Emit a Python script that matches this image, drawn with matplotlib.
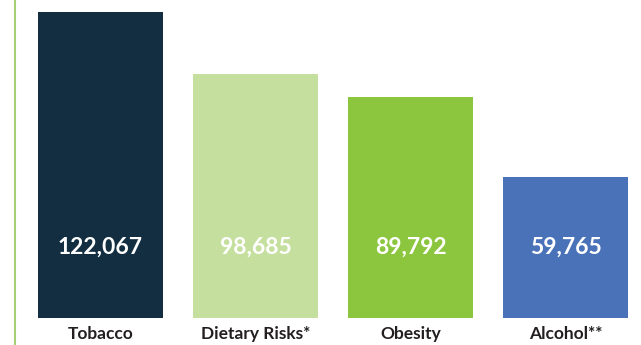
import matplotlib
matplotlib.use("Agg")
from matplotlib import pyplot as plt
from matplotlib.lines import Line2D

categories = ["Tobacco", "Dietary Risks*", "Obesity", "Alcohol**"]
values = [122067, 98685, 89792, 59765]
value_labels = ["122,067", "98,685", "89,792", "59,765"]
colors = ["#122e40", "#c5e09e", "#8cc63f", "#4a72b8"]

plt.rcParams['font.family'] = ['Lato', 'DejaVu Sans']

fig = plt.figure(figsize=(6.41, 3.45), dpi=100)
ax = fig.add_axes([14/641, 27/345, 627/641, 318/345])

x = range(len(categories))
ax.bar(x, values, width=0.806, color=colors)

# bars start below zero in the original, so the bottom is cut off
ax.set_ylim(6400, 126600)
ax.set_xlim(-0.558, 3.487)

for i, lab in enumerate(value_labels):
    ax.text(i, 0.223, lab, transform=ax.get_xaxis_transform(),
            ha='center', va='center', color='white',
            fontsize=16.5, fontweight='bold')

ax.set_xticks(list(x))
ax.set_xticklabels(categories, fontsize=12.5, fontweight='bold', color='#231f20')
ax.tick_params(axis='x', length=0, pad=6)
ax.set_yticks([])
for s in ax.spines.values():
    s.set_visible(False)

# green vertical rule on the left, full height
fig.add_artist(Line2D([14.5/641, 14.5/641], [0, 1], color='#a6cf78', lw=1.5,
                      transform=fig.transFigure))

fig.savefig("out.png", dpi=100)
